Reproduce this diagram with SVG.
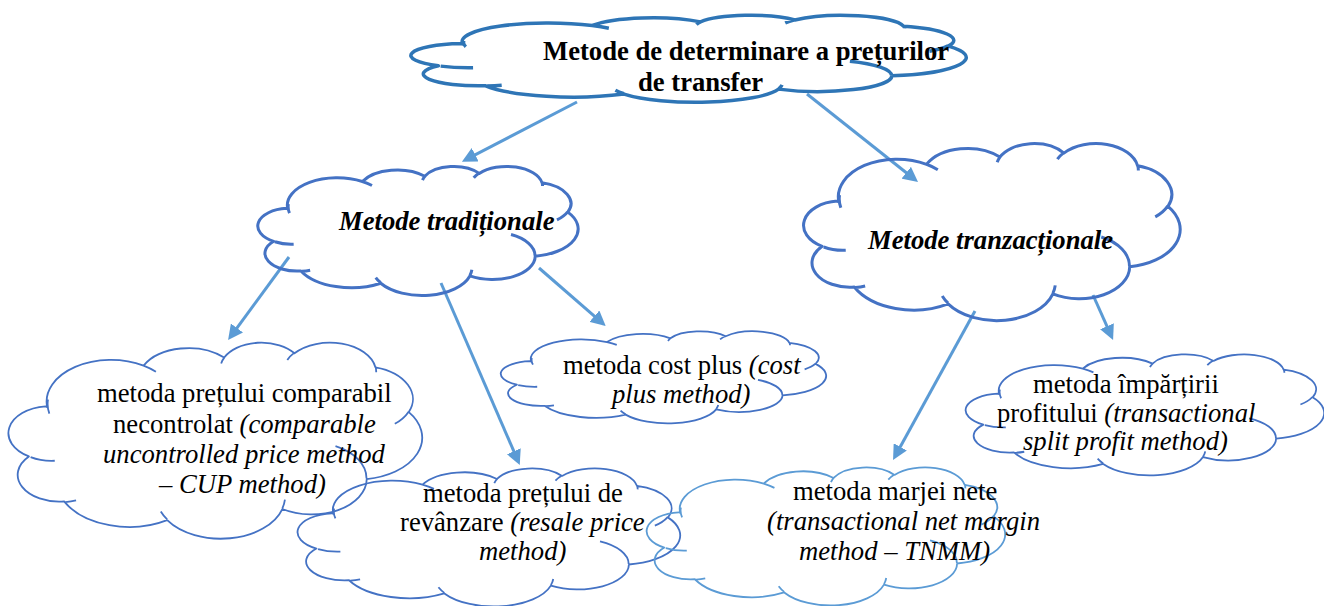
<svg xmlns="http://www.w3.org/2000/svg" xmlns:xlink="http://www.w3.org/1999/xlink" width="1324" height="606" viewBox="0 0 1324 606">
<style>
.cl{fill:none;stroke-linecap:butt;stroke-linejoin:round}
.dk{stroke:#4472C4}
.tp{stroke:#2E75B6;stroke-width:3.5}
.md{stroke-width:3}
.lo{stroke-width:1.8}
.lt{stroke:#5B9BD5}
text{font-family:"Liberation Serif","Times New Roman",serif;font-size:26.67px;fill:#000}
.b{font-weight:bold}
.i{font-style:italic}
.ar{stroke:#5B9BD5;stroke-width:3;fill:none;marker-end:url(#ah)}
</style>
<defs>
<path id="cloud" vector-effect="non-scaling-stroke" d="M3900,14370 A6753,9190 0 0 1 14005,5202 A5333,7267 0 0 1 22455,3432 A4365,5945 0 0 1 29831,2476 A4857,6595 0 0 1 38316,5571 A5333,7273 0 0 1 41817,15455 A6775,9220 0 0 1 37406,30203 A5785,7867 0 0 1 28557,36813 A6752,9215 0 0 1 16482,39266 A7720,10543 0 0 1 5674,35142 A4360,5918 0 0 1 1983,25220 A4345,5945 0 0 1 3733,14176 Z M4693,26177 A4345,5945 0 0 1 2160,25380 M6928,34899 A4360,5918 0 0 1 5820,35281 M16478,39090 A6752,9215 0 0 1 15810,37350 M28827,34751 A6752,9215 0 0 1 28561,36660 M34129,22954 A5785,7867 0 0 1 37380,30090 M41798,15354 A5333,7273 0 0 1 40349,18031 M38324,5426 A4857,6595 0 0 1 38400,6690 M29078,3952 A4857,6595 0 0 1 29820,2340 M22141,4720 A4365,5945 0 0 1 22500,3331 M14000,5192 A6753,9190 0 0 1 15300,6541 M4127,15789 A6753,9190 0 0 1 3982,12678"/>
<marker id="ah" viewBox="0 0 10 10" refX="3" refY="5" markerWidth="5" markerHeight="5" markerUnits="strokeWidth" orient="auto">
<path d="M0,0 L10,5 L0,10 Z" fill="#5B9BD5"/>
</marker>
</defs>

<g id="connectors">
<line class="ar" x1="577" y1="102" x2="471.2" y2="156.8"/>
<line class="ar" x1="807" y1="94" x2="909.8" y2="175.5"/>
<line class="ar" x1="289" y1="257" x2="234.3" y2="331.6"/>
<line class="ar" x1="441" y1="283" x2="515.6" y2="455.4"/>
<line class="ar" x1="539" y1="268" x2="597.8" y2="319.1"/>
<line class="ar" x1="975" y1="311" x2="898.1" y2="450.8"/>
<line class="ar" x1="1093" y1="295" x2="1108.8" y2="330.4"/>
</g>

<g id="n-top">
<use xlink:href="#cloud" class="cl tp" transform="translate(413 15) scale(0.012801 0.0020139)"/>
<text class="b" x="543" y="60">Metode de determinare a prețurilor</text>
<text class="b" x="638" y="91">de transfer</text>
</g>

<g id="n-traditionale">
<use xlink:href="#cloud" class="cl dk md" transform="translate(259 166) scale(0.0073843 0.0029861)"/>
<text class="b i" x="339" y="230">Metode tradiționale</text>
</g>

<g id="n-tranzactionale">
<use xlink:href="#cloud" class="cl dk md" transform="translate(805 143) scale(0.0086806 0.0040972)"/>
<text class="b i" x="868" y="249">Metode tranzacționale</text>
</g>

<g id="n-cup">
<use xlink:href="#cloud" class="cl dk lo" transform="translate(10 342) scale(0.0095370 0.0045370)"/>
<text x="97" y="402">metoda prețului comparabil</text>
<text x="113" y="433">necontrolat <tspan class="i">(comparable</tspan></text>
<text class="i" x="103" y="463">uncontrolled price method</text>
<text class="i" x="159" y="493">– CUP method)</text>
</g>

<g id="n-costplus">
<use xlink:href="#cloud" class="cl dk lo" transform="translate(502 331) scale(0.0075 0.0021296)"/>
<text x="563" y="374">metoda cost plus <tspan class="i">(cost</tspan></text>
<text class="i" x="612" y="403">plus method)</text>
</g>

<g id="n-resale">
<use xlink:href="#cloud" class="cl dk lo" transform="translate(299 468) scale(0.0088194 0.0031944)"/>
<text x="423" y="502">metoda prețului de</text>
<text x="400" y="531">revânzare <tspan class="i">(resale price</tspan></text>
<text class="i" x="479" y="560">method)</text>
</g>

<g id="n-tnmm">
<use xlink:href="#cloud" class="cl lt lo" transform="translate(648 467) scale(0.0082639 0.0031944)"/>
<text x="793" y="500">metoda marjei nete</text>
<text class="i" x="767" y="530">(transactional net margin</text>
<text class="i" x="799" y="560">method – TNMM)</text>
</g>

<g id="n-split">
<use xlink:href="#cloud" class="cl dk lo" transform="translate(967 354) scale(0.0082639 0.0028009)"/>
<text x="1033" y="393">metoda împărțirii</text>
<text x="997" y="422">profitului <tspan class="i">(transactional</tspan></text>
<text class="i" x="1023" y="450">split profit method)</text>
</g>
</svg>
